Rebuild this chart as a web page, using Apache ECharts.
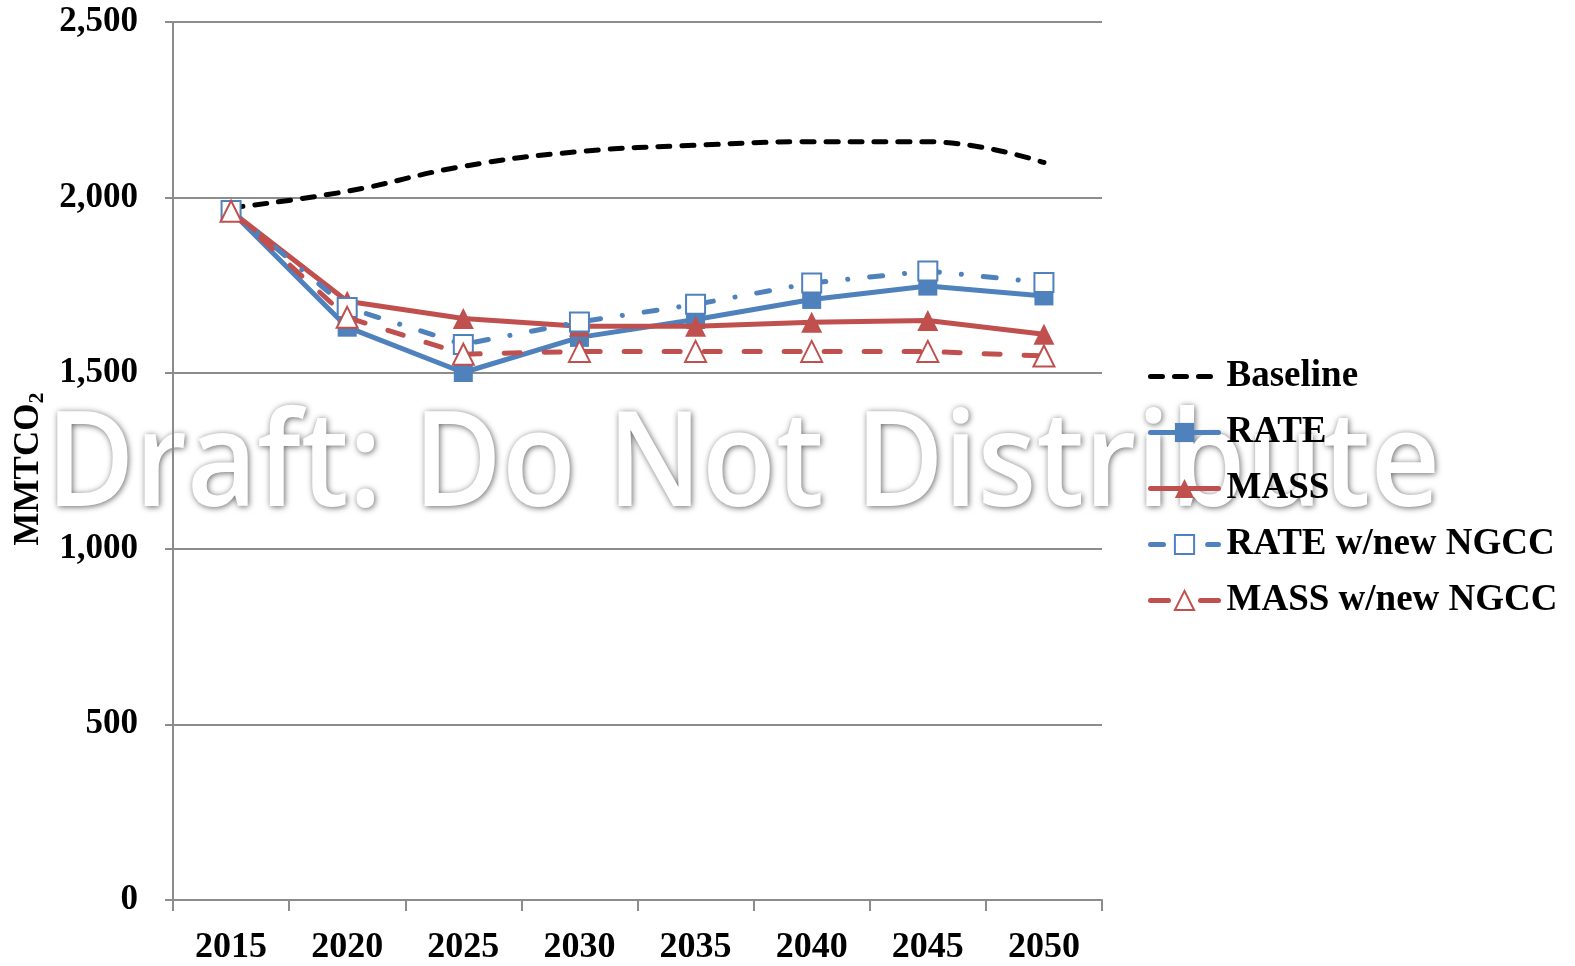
<!DOCTYPE html>
<html>
<head>
<meta charset="utf-8">
<script src="https://cdn.jsdelivr.net/npm/echarts@6/dist/echarts.min.js"></script>
<style>
  html, body { margin: 0; padding: 0; background: #fff; }
  #chart { width: 1575px; height: 966px; }
</style>
</head>
<body>
<div id="chart"></div>
<script>
const years = ['2015', '2020', '2025', '2030', '2035', '2040', '2045', '2050']

const baseline = [1971, 2018, 2089, 2131, 2149, 2159, 2159, 2100]
const rate = [1961, 1631, 1502, 1602, 1653, 1710, 1748, 1720]
const mass = [1961, 1705, 1656, 1634, 1634, 1645, 1650, 1611]
const rateNgcc = [1963, 1687, 1582, 1646, 1696, 1757, 1791, 1758]
const massNgcc = [1961, 1659, 1554, 1562, 1562, 1562, 1562, 1549]

const yTicks = [0, 500, 1000, 1500, 2000, 2500]

const BLUE = '#4F81BD'
const RED = '#C0504D'
const GRID = '#8c8c8c'
const SERIF = '"Liberation Serif", "Times New Roman", serif'

// 線型
const DASH_BASE = [12, 12]
const DASH_DOT = [13, 22, 0.1, 22]
const DASH_LONG = [16, 24]

const chart = echarts.init(document.getElementById('chart'))

const labelFont = { fontFamily: SERIF, fontWeight: 'bold', color: '#000' }

const option = {
  animation: false,
  backgroundColor: '#fff',
  grid: { left: 173, right: 473, top: 22, bottom: 64, containLabel: false },
  legend: {
    orient: 'vertical',
    left: 1143,
    top: 353,
    itemWidth: 68,
    itemHeight: 24,
    itemGap: 19,
    textStyle: { ...labelFont, fontSize: 37, padding: [0, 0, 0, 3] },
    data: [
      { name: 'Baseline', lineStyle: { color: '#000', width: 5, type: DASH_BASE, cap: 'round' }, itemStyle: { opacity: 0 } },
      { name: 'RATE', lineStyle: { color: BLUE, width: 5, type: 'solid', cap: 'round' } },
      { name: 'MASS', lineStyle: { color: RED, width: 5, type: 'solid', cap: 'round' } },
      { name: 'RATE w/new NGCC', lineStyle: { color: BLUE, width: 5, type: DASH_DOT, cap: 'round' } },
      { name: 'MASS w/new NGCC', lineStyle: { color: RED, width: 5, type: [18, 32], cap: 'round' } }
    ]
  },
  xAxis: {
    type: 'category',
    data: years,
    boundaryGap: true,
    axisLine: { lineStyle: { color: GRID, width: 2 } },
    axisTick: { show: true, length: 11, lineStyle: { color: GRID, width: 2 } },
    axisLabel: { ...labelFont, fontSize: 36, margin: 30 }
  },
  yAxis: {
    type: 'value',
    min: yTicks[0],
    max: yTicks[yTicks.length - 1],
    interval: 500,
    name: '{a|MMTCO}{b|2}',
    nameLocation: 'middle',
    nameGap: 113,
    nameRotate: 90,
    nameTextStyle: {
      rich: {
        a: { fontFamily: SERIF, fontWeight: 'bold', fontSize: 35, color: '#000' },
        b: { fontFamily: SERIF, fontWeight: 'bold', fontSize: 22, color: '#000', padding: [16, 16, 0, 0] }
      }
    },
    axisLine: { show: true, lineStyle: { color: GRID, width: 2 } },
    axisTick: { show: true, length: 8, lineStyle: { color: GRID, width: 2 } },
    splitLine: { lineStyle: { color: GRID, width: 2 } },
    axisLabel: {
      ...labelFont,
      fontSize: 35,
      margin: 35,
      formatter: v => v.toLocaleString('en-US')
    }
  },
  series: [
    {
      name: 'Baseline',
      type: 'line',
      data: baseline,
      smooth: 0.45,
      symbol: 'none',
      lineStyle: { color: '#000', width: 5, type: DASH_BASE, cap: 'round' },
      itemStyle: { color: '#000' },
      z: 2
    },
    {
      name: 'RATE',
      type: 'line',
      data: rate,
      symbol: 'rect',
      symbolSize: 19,
      lineStyle: { color: BLUE, width: 5 },
      itemStyle: { color: BLUE },
      z: 3
    },
    {
      name: 'MASS',
      type: 'line',
      data: mass,
      symbol: 'triangle',
      symbolSize: 21,
      lineStyle: { color: RED, width: 5 },
      itemStyle: { color: RED },
      z: 4
    },
    {
      name: 'RATE w/new NGCC',
      type: 'line',
      data: rateNgcc,
      symbol: 'rect',
      symbolSize: 19,
      lineStyle: { color: BLUE, width: 5, type: DASH_DOT, cap: 'round' },
      itemStyle: { color: '#fff', borderColor: BLUE, borderWidth: 2 },
      z: 5
    },
    {
      name: 'MASS w/new NGCC',
      type: 'line',
      data: massNgcc,
      symbol: 'triangle',
      symbolSize: 21,
      lineStyle: { color: RED, width: 5, type: DASH_LONG, cap: 'round' },
      itemStyle: { color: '#fff', borderColor: RED, borderWidth: 2 },
      z: 6
    }
  ],
  graphic: [
    {
      // 浮水印
      type: 'text',
      z: -10,
      x: 46,
      y: 468,
      scaleY: 1.09,
      style: {
        text: 'Draft: Do Not Distribute',
        x: 0,
        y: 0,
        verticalAlign: 'middle',
        font: '600 121px "Open Sans", "Noto Sans", sans-serif',
        fill: '#ffffff',
        textShadowColor: 'rgba(0,0,0,0.6)',
        textShadowBlur: 6,
        textShadowOffsetX: 1,
        textShadowOffsetY: 1
      }
    }
  ]
}

chart.setOption(option)
</script>
</body>
</html>
